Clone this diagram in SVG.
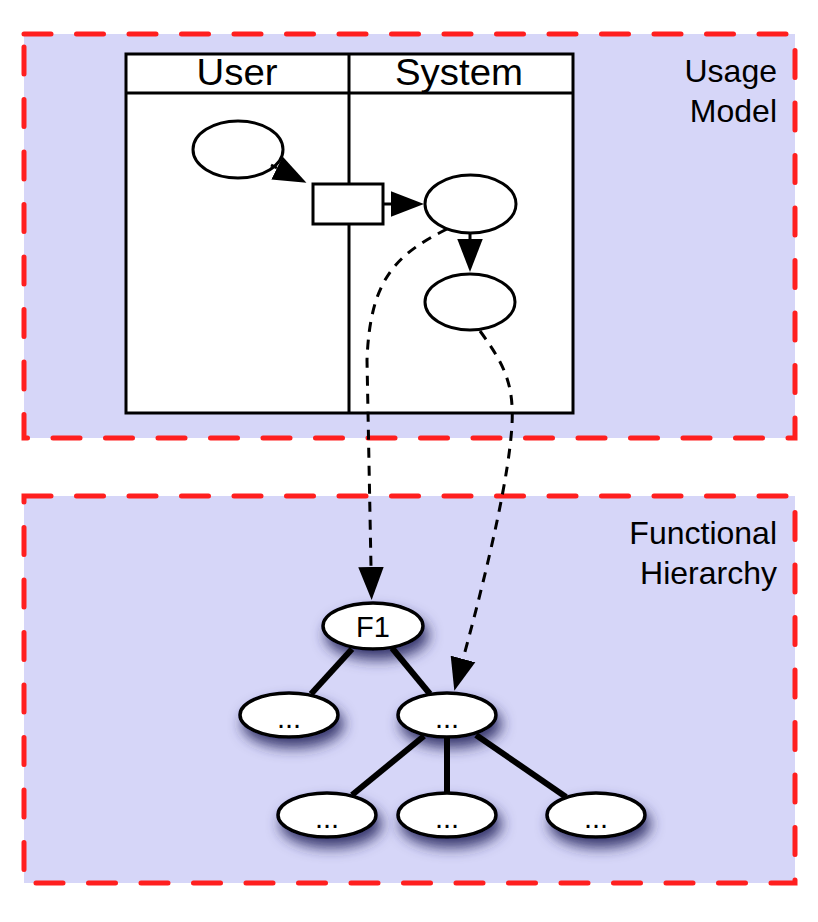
<svg xmlns="http://www.w3.org/2000/svg" width="818" height="922" viewBox="0 0 818 922">
<defs>
<style>
.box{fill:#d6d6f8;}
.boxb{fill:none;stroke:#ff1f1f;stroke-width:5;stroke-dasharray:27 25.5;stroke-linecap:round;}
.lane{fill:#fff;stroke:#000;stroke-width:3;}
.ln{stroke:#000;stroke-width:3;fill:none;}
.nd{fill:#fff;stroke:#000;stroke-width:3;}
.hn{fill:#fff;stroke:#000;stroke-width:3.5;}
.dash{fill:none;stroke:#000;stroke-width:3;stroke-dasharray:10 8;}
.tree{stroke:#000;stroke-width:6;fill:none;}
text{font-family:"Liberation Sans",Arial,sans-serif;fill:#000;}
.lbl{font-size:32px;text-anchor:end;}
.hd{font-size:36px;text-anchor:middle;}
.nt{font-size:29px;text-anchor:middle;}
</style>
<marker id="ah" markerUnits="userSpaceOnUse" markerWidth="34" markerHeight="26" refX="0" refY="12" orient="auto" viewBox="0 0 32 24">
<path d="M0,0 L31,12 L0,24 Z" fill="#000"/>
</marker>
<filter id="sh" x="-50%" y="-80%" width="210%" height="300%">
<feDropShadow dx="4" dy="9" stdDeviation="7" flood-color="#2a2a60" flood-opacity="0.9"/>
</filter>
</defs>

<g id="usage-model">
<rect class="box" x="24" y="34" width="771" height="404"/>
<rect class="boxb" x="24" y="34" width="771" height="404"/>
<text class="lbl" x="777" y="82">Usage</text>
<text class="lbl" x="777" y="122">Model</text>
</g>

<g id="functional-hierarchy">
<rect class="box" x="24" y="496" width="771" height="387"/>
<rect class="boxb" x="24" y="496" width="771" height="387"/>
<text class="lbl" x="777" y="544">Functional</text>
<text class="lbl" x="777" y="584">Hierarchy</text>
</g>

<g id="swimlane">
<rect class="lane" x="126" y="54" width="447" height="359"/>
<line class="ln" x1="126" y1="93" x2="573" y2="93"/>
<line class="ln" x1="349" y1="54" x2="349" y2="413"/>
<text class="hd" x="237" y="85" textLength="81" lengthAdjust="spacingAndGlyphs">User</text>
<text class="hd" x="459" y="85" textLength="128" lengthAdjust="spacingAndGlyphs">System</text>
</g>

<g id="user-action"><ellipse class="nd" cx="238" cy="149.5" rx="45" ry="28.5"/></g>
<g id="interaction"><rect class="nd" x="313" y="184" width="70" height="40"/></g>
<g id="system-step-1"><ellipse class="nd" cx="470.5" cy="204" rx="45.5" ry="29"/></g>
<g id="system-step-2"><ellipse class="nd" cx="470" cy="302" rx="45" ry="28"/></g>

<g id="f1"><ellipse class="hn" cx="373" cy="626" rx="50" ry="23" filter="url(#sh)"/><text class="nt" x="373" y="637">F1</text></g>
<g id="f1-1"><ellipse class="hn" cx="289" cy="715" rx="49" ry="22" filter="url(#sh)"/><text class="nt" x="289" y="728">...</text></g>
<g id="f1-2"><ellipse class="hn" cx="447" cy="715" rx="49" ry="22" filter="url(#sh)"/><text class="nt" x="447" y="728">...</text></g>
<g id="f1-2-1"><ellipse class="hn" cx="327" cy="815" rx="49" ry="22" filter="url(#sh)"/><text class="nt" x="327" y="828">...</text></g>
<g id="f1-2-2"><ellipse class="hn" cx="447" cy="815" rx="49" ry="22" filter="url(#sh)"/><text class="nt" x="447" y="828">...</text></g>
<g id="f1-2-3"><ellipse class="hn" cx="596" cy="815" rx="49" ry="22" filter="url(#sh)"/><text class="nt" x="596" y="828">...</text></g>

<g id="connectors">
<path class="ln" d="M271,165 L277,168" marker-end="url(#ah)"/>
<path class="ln" d="M383,204 L391,204" marker-end="url(#ah)"/>
<path class="ln" d="M470,233 L470,239" marker-end="url(#ah)"/>
<path class="dash" d="M447,229 C395,255 370,280 367,360 L371,567" marker-end="url(#ah)"/>
<path class="dash" d="M480,331 C505,365 514,385 512,425 C509,475 490,560 463,659" marker-end="url(#ah)"/>
<line class="tree" x1="352" y1="649" x2="311" y2="694"/>
<line class="tree" x1="392" y1="648" x2="430" y2="694"/>
<line class="tree" x1="424" y1="736" x2="352" y2="795"/>
<line class="tree" x1="447" y1="737" x2="447" y2="793"/>
<line class="tree" x1="476" y1="735" x2="566" y2="797"/>
</g>
</svg>
